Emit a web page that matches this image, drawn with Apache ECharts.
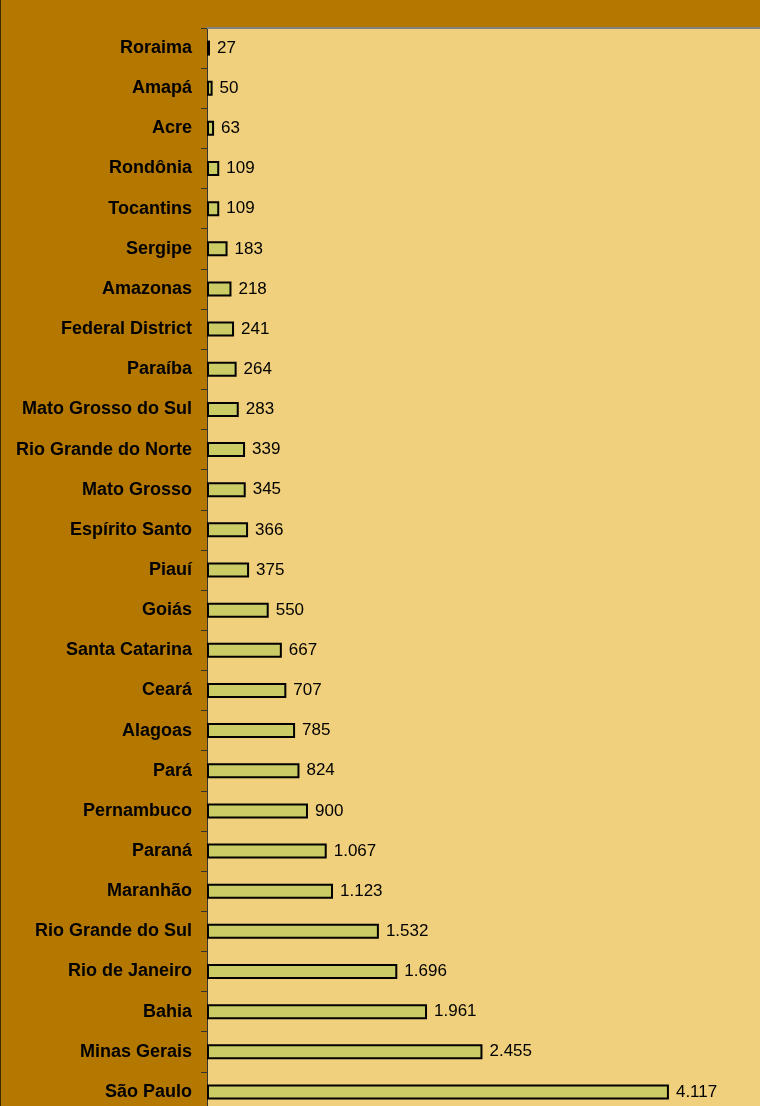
<!DOCTYPE html>
<html>
<head>
<meta charset="utf-8">
<script src="https://cdn.jsdelivr.net/npm/echarts@6/dist/echarts.min.js"></script>
<style>
  html, body { margin: 0; padding: 0; background: #B47800; overflow: hidden; }
  #chart { width: 768px; height: 1113px; }
</style>
</head>
<body>
<div id="chart"></div>
<script>
// States, listed top to bottom
const states = [
  'Roraima', 'Amapá', 'Acre', 'Rondônia', 'Tocantins', 'Sergipe', 'Amazonas',
  'Federal District', 'Paraíba', 'Mato Grosso do Sul', 'Rio Grande do Norte',
  'Mato Grosso', 'Espírito Santo', 'Piauí', 'Goiás', 'Santa Catarina', 'Ceará',
  'Alagoas', 'Pará', 'Pernambuco', 'Paraná', 'Maranhão', 'Rio Grande do Sul',
  'Rio de Janeiro', 'Bahia', 'Minas Gerais', 'São Paulo'
];
const values = [
  27, 50, 63, 109, 109, 183, 218, 241, 264, 283, 339, 345, 366, 375, 550,
  667, 707, 785, 824, 900, 1067, 1123, 1532, 1696, 1961, 2455, 4117
];

// thousands separated with a dot
function fmt(v) {
  return String(v).replace(/\B(?=(\d{3})+(?!\d))/g, '.');
}

const FONT = 'Liberation Sans, Arial, sans-serif';

// the canvas is a little larger than the window, so the plot runs off its right and bottom edges
const chart = echarts.init(document.getElementById('chart'), null, { renderer: 'canvas' });
chart.setOption({
  backgroundColor: '#B47800',
  animation: false,
  grid: {
    left: 207, top: 28, width: 561, height: 1084,
    show: true, backgroundColor: '#F0D07C', borderWidth: 0
  },
  xAxis: {
    type: 'value', position: 'top', min: 0, max: 5000,
    axisLine: { show: true, lineStyle: { color: '#808080', width: 2 } },
    axisTick: { show: false }, axisLabel: { show: false }, splitLine: { show: false }
  },
  yAxis: {
    type: 'category', data: states, inverse: true,
    axisLine: { show: true, lineStyle: { color: '#333', width: 1 } },
    axisTick: { show: true, length: 6, inside: false, lineStyle: { color: '#333' } },
    axisLabel: {
      margin: 15, color: '#000', fontWeight: 'bold', fontSize: 18, fontFamily: FONT
    }
  },
  series: [{
    type: 'bar', data: values, barWidth: 15,
    itemStyle: { color: '#CCCC66', borderColor: '#000', borderWidth: 2 },
    label: {
      show: true, position: 'right', distance: 7, color: '#000', fontSize: 17,
      fontFamily: FONT,
      formatter: p => fmt(p.value)
    }
  }],
  graphic: [{
    type: 'rect', left: 0, top: 0, shape: { width: 1, height: 1113 },
    style: { fill: '#3a2a00' }
  }]
});
</script>
</body>
</html>
